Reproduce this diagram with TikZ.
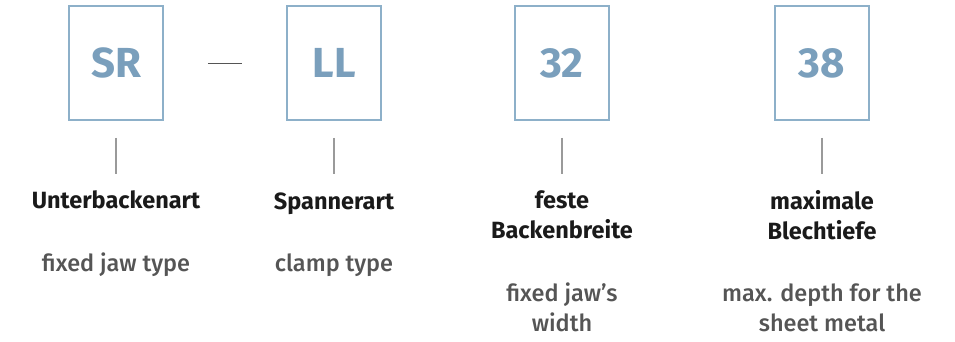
\documentclass[tikz,border=0pt]{standalone}
\usepackage{fontspec}
\setsansfont{Fira Sans}
\newfontfamily\firamed{Fira Sans Medium}
\usetikzlibrary{positioning}
\definecolor{steel}{HTML}{7A9FBC}
\definecolor{steelline}{HTML}{8DB0C9}
\definecolor{ink}{HTML}{1A1A1A}
\definecolor{ash}{HTML}{555555}
\definecolor{rule}{HTML}{9A9A9A}

\begin{document}
\begin{tikzpicture}[x=1pt, y=1pt, font=\sffamily, node distance=44pt,
  code/.style={draw=steelline, line width=1.6pt, minimum width=94pt, minimum height=114pt, inner sep=0pt, text=steel, font=\fontsize{42}{48}\sffamily\bfseries},
  head/.style={anchor=north, align=center, inner sep=0pt, text depth=0pt, text=ink, font=\fontsize{23.5}{30}\sffamily\bfseries},
  sub/.style={align=center, inner sep=0pt, text depth=0pt, text=ash, font=\fontsize{23.5}{30}\firamed},
  tick/.style={draw=rule, line width=1.3pt},
  sep/.style={draw=ash, line width=0.9pt, shorten <=44pt, shorten >=44pt}]
\useasboundingbox (0,0) rectangle (955,-341);
\node[code] (sr) at (116,-63) {SR};
\node[code] (ll) at (334,-63) {LL};
\node[code] (wd) at (562,-63) {32};
\node[code] (dp) at (822,-63) {38};
\draw[sep] (sr) -- (ll);
\foreach \b in {sr,ll,wd,dp}
  \draw[tick] ([yshift=-17pt]\b.south) -- ([yshift=-53pt]\b.south);
% German terms
\node[head] (srh) at (116,-190) {Unterbackenart};
\node[head] (llh) at (334,-192.5) {Spannerart};
\node[head] (wdh) at (562,-190) {feste\\Backenbreite};
\node[head] (dph) at (822,-190) {maximale\\Blechtiefe};
% English terms
\node[sub, below=of srh] (srs) {fixed jaw type};
\node[sub, below=of llh] (lls) {clamp type};
\node[sub, below=of wdh] (wds) {fixed jaw’s\\width};
\node[sub, below=of dph] (dps) {max. depth for the\\sheet metal};
\end{tikzpicture}
\end{document}
